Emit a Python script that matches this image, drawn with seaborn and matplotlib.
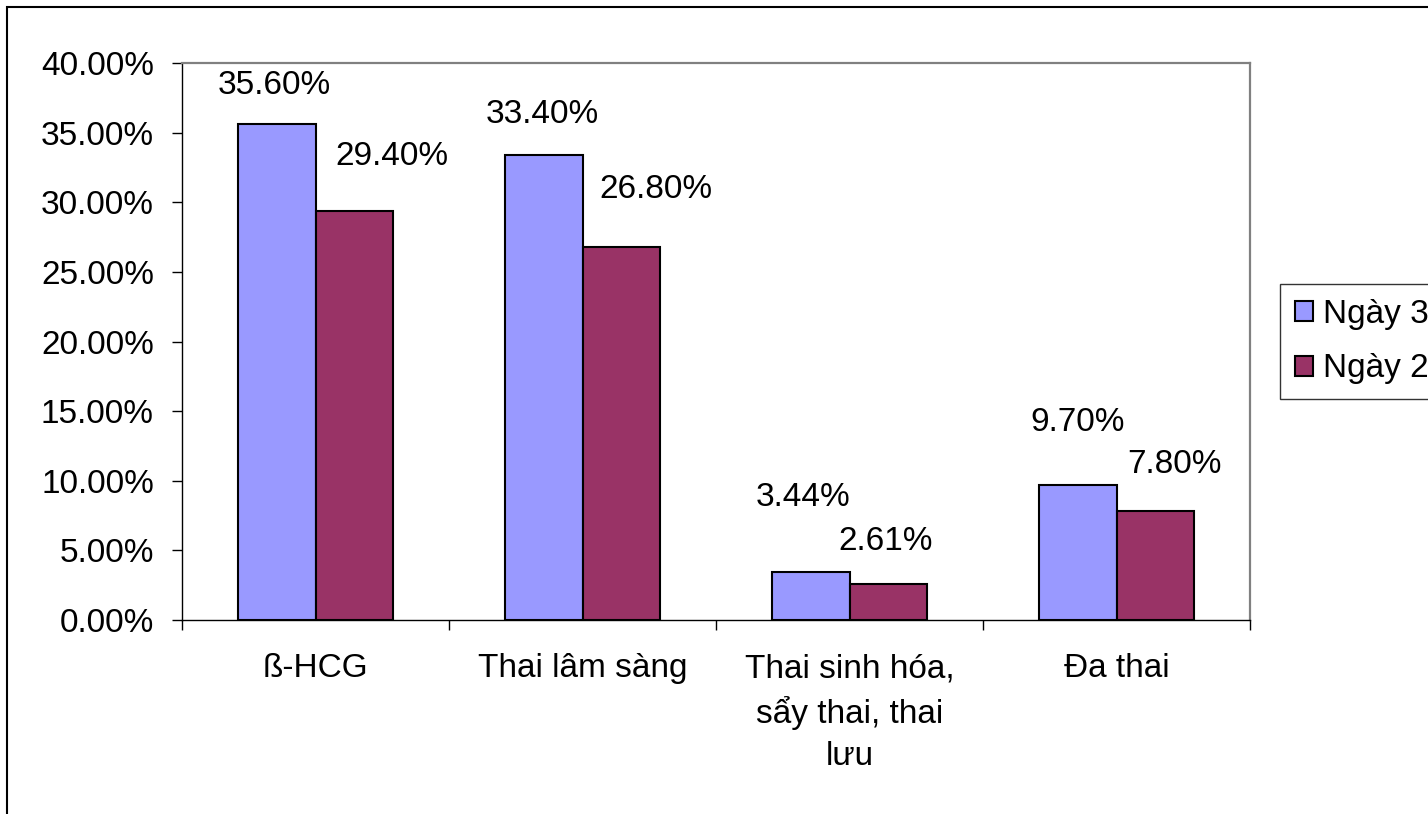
import matplotlib

matplotlib.use("Agg")

import pandas as pd
import matplotlib.pyplot as plt
import seaborn as sns
from matplotlib.patches import Rectangle
from matplotlib.ticker import PercentFormatter, FixedLocator

# data
categories = ["ß-HCG", "Thai lâm sàng", "Thai sinh hóa,\nsẩy thai, thai\nlưu", "Đa thai"]
series_names = ["Ngày 3", "Ngày 2"]
ngay3 = [35.60, 33.40, 3.44, 9.70]
ngay2 = [29.40, 26.80, 2.61, 7.80]
y_ticks = [0, 5, 10, 15, 20, 25, 30, 35, 40]

# label offsets (pixels, from the top centre of each bar), as in the original
label_offsets = {
    "Ngày 3": [(-2, 39), (-1, 40), (-8, 75), (0, 62)],
    "Ngày 2": [(38, 54), (35, 57), (-3, 42), (19, 47)],
}

colors = ["#9999FF", "#993366"]

df = pd.DataFrame({
    "category": categories * 2,
    "series": [series_names[0]] * 4 + [series_names[1]] * 4,
    "value": ngay3 + ngay2,
})

sns.set_theme(style="white")
plt.rcParams["font.family"] = ["Liberation Sans", "DejaVu Sans"]
plt.rcParams["text.color"] = "black"

W, H = 1428, 814
fig = plt.figure(figsize=(W / 100, H / 100), dpi=100)
ax = fig.add_axes([182 / W, 1 - 620 / H, (1250 - 182) / W, (620 - 63) / H])

sns.barplot(
    data=df, x="category", y="value", hue="series",
    order=categories, hue_order=series_names, palette=colors,
    width=0.58, gap=0, edgecolor="black", linewidth=1.5,
    saturation=1, errorbar=None, ax=ax,
)

ax.set_ylim(0, 40)
ax.set_xlim(-0.5, len(categories) - 0.5)
ax.yaxis.set_major_locator(FixedLocator(y_ticks))
ax.yaxis.set_major_formatter(PercentFormatter(xmax=100, decimals=2))
ax.set_xlabel("")
ax.set_ylabel("")

# boundary ticks between categories, like an Excel category axis
ax.xaxis.set_minor_locator(FixedLocator([i - 0.5 for i in range(len(categories) + 1)]))
ax.tick_params(axis="x", which="major", length=0, pad=24, labelsize=24,
               labelcolor="black")
ax.tick_params(axis="x", which="minor", bottom=True, length=7.2, width=1,
               color="black", direction="out")
ax.tick_params(axis="y", left=True, length=7.2, width=1, color="black",
               direction="out", pad=13, labelsize=24, labelcolor="black")
for lab in ax.get_xticklabels():
    lab.set_linespacing(1.45)

ax.spines["left"].set_color("black")
ax.spines["bottom"].set_color("black")
ax.spines["left"].set_linewidth(1)
ax.spines["bottom"].set_linewidth(1)
for side in ["top", "right"]:
    ax.spines[side].set_color("#808080")
    ax.spines[side].set_linewidth(1.6)
    ax.spines[side].set_visible(True)

# value labels
for container, name in zip(ax.containers, series_names):
    for bar, (dx, dy) in zip(container, label_offsets[name]):
        h = bar.get_height()
        ax.annotate(
            f"{h:.2f}%",
            xy=(bar.get_x() + bar.get_width() / 2, h),
            xytext=(dx, dy), textcoords="offset pixels",
            ha="center", va="center", fontsize=24, color="black",
            annotation_clip=False,
        )

# legend on the right, running off the figure edge
handles, labels = ax.get_legend_handles_labels()
ax.get_legend().remove()
leg = fig.legend(
    handles, labels,
    loc="upper left", bbox_to_anchor=(1280 / W, 1 - 284 / H),
    fontsize=24, frameon=True, fancybox=False, shadow=False,
    handlelength=0.55, handleheight=0.55, handletextpad=0.3,
    borderpad=0.45, labelspacing=0.7, borderaxespad=0,
)
leg.get_frame().set_edgecolor("black")
leg.get_frame().set_linewidth(1)
for p in leg.get_patches():
    p.set_edgecolor("black")
    p.set_linewidth(1.5)

# outer chart frame
fig.patches.append(Rectangle(
    (7 / W, -0.1), 1.2, 1.1 - 7 / H, transform=fig.transFigure,
    fill=False, edgecolor="black", linewidth=1.5, zorder=10,
))

fig.savefig("out.png", dpi=100)
plt.close("all")
